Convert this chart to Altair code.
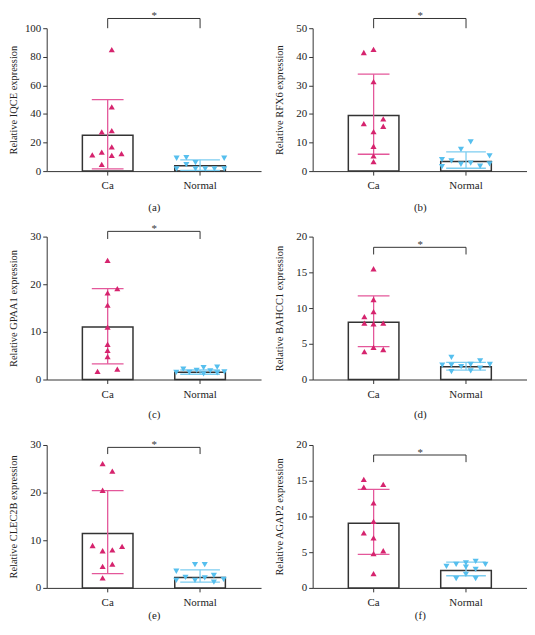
import altair as alt
import pandas as pd

groups = ["Ca", "Normal"]

# ---- panel (a) IQCE ----
a_title = "Relative IQCE expression"
a_ymax, a_step = 100, 20
a_ca = [85, 45, 28.3, 27.5, 17, 13.3, 12.2, 11.3, 11, 4.7]
a_ca_jit = [0.43, 0.43, 0.43, -0.6, 0.43, -0.6, 1.43, -1.57, 0.43, -0.6]
a_nm = [9, 1.5, 9.5, 4.5, 6, 1.5, 1.5, 1.5, 9, 1.5]
a_nm_jit = [-2.4, -2.4, -1.4, -1.4, -0.46, -0.46, 0.54, 1.49, 2.49, 2.49]
a_mean = [25.1, 3.8]
a_lo = [1.6, 0.5]
a_hi = [50, 7.9]
a_bracket = [106.8, 100]

# ---- panel (b) RFX6 ----
b_title = "Relative RFX6 expression"
b_ymax, b_step = 50, 10
b_ca = [42.6, 41.5, 31.3, 18.3, 16.6, 15.7, 13.8, 8.7, 5.3, 3.3]
b_ca_jit = [0, -1, 0, 1, -1, 1, 0, 0, 0, 0]
b_nm = [4.0, 1.6, 3.6, 7.6, 2.4, 10.2, 2.8, 1.7, 5.3, 2.5]
b_nm_jit = [-2.46, -2.46, -1.49, -0.51, -0.51, 0.49, 0.49, 1.46, 2.43, 2.43]
b_mean = [19.5, 3.4]
b_lo = [5.9, 1.0]
b_hi = [33.9, 6.7]
b_bracket = [53.4, 50]

# ---- panel (c) GPAA1 ----
c_title = "Relative GPAA1 expression"
c_ymax, c_step = 30, 10
c_ca = [25, 19.1, 18.2, 15.6, 11, 7.4, 6.1, 4.8, 1.7, 2.2]
c_ca_jit = [0, 1, 0, 0, 0, 0, 0, 0, -1.03, 1]
c_nm = [1.5, 2.2, 1.5, 1.9, 2.5, 1.2, 1.8, 2.6, 1.4, 1.6]
c_nm_jit = [-2.43, -1.71, -1.09, -0.34, 0.37, 0.37, 1.06, 1.77, 1.77, 2.51]
c_mean = [11, 1.5]
c_lo = [3.3, 1.1]
c_hi = [19.1, 2.0]
c_bracket = [31.1, 29.5]

# ---- panel (d) BAHCC1 ----
d_title = "Relative BAHCC1 expression"
d_ymax, d_step = 20, 5
d_ca = [15.5, 11.2, 9.5, 8.8, 7.9, 7.8, 7.9, 3.9, 4.5, 4.2]
d_ca_jit = [0, 0, 0, -0.94, -0.94, 0, 1, -0.94, 0, 1]
d_nm = [2.0, 2.0, 3.1, 1.1, 1.8, 2.1, 1.2, 2.6, 1.6, 2.1]
d_nm_jit = [-2.43, -1.49, -1.49, -1.49, -0.49, 0.49, 0.49, 1.46, 1.46, 2.46]
d_mean = [8.0, 1.8]
d_lo = [4.6, 1.3]
d_hi = [11.7, 2.4]
d_bracket = [18.5, 17.5]

# ---- panel (e) CLEC2B ----
e_title = "Relative CLEC2B expression"
e_ymax, e_step = 30, 10
e_ca = [26.1, 24.5, 20.5, 8.9, 7.8, 8.0, 8.7, 4.5, 5.0, 2.1]
e_ca_jit = [-0.51, 0.49, -0.51, -1.54, -0.51, 0.49, 1.49, -0.51, 0.49, -0.51]
e_nm = [3.5, 1.6, 2.2, 4.9, 1.6, 4.9, 2.1, 2.6, 1.2, 1.8]
e_nm_jit = [-2.43, -2.43, -1.49, -0.51, -0.51, 0.49, 0.49, 1.43, 1.43, 2.43]
e_mean = [11.4, 2.2]
e_lo = [3.0, 1.2]
e_hi = [20.4, 3.8]
e_bracket = [29.5, 28.1]

# ---- panel (f) AGAP2 ----
f_title = "Relative AGAP2 expression"
f_ymax, f_step = 20, 5
f_ca = [15.2, 14.1, 14.5, 11.9, 9.3, 7.7, 7.0, 5.2, 4.8, 2.0]
f_ca_jit = [-1, -1, 1, 0, 0, -1, 0, 1, 0, 0]
f_nm = [3.0, 3.3, 3.5, 2.9, 3.7, 2.6, 3.3, 1.3, 1.9, 1.3]
f_nm_jit = [-2, -1, 0, 0, 1, 1, 2, -1, 0, 1]
f_mean = [9.05, 2.45]
f_lo = [4.7, 1.7]
f_hi = [13.8, 3.6]
f_bracket = [18.6, 17.6]

captions = ["(a)", "(b)", "(c)", "(d)", "(e)", "(f)"]

W, H = 216, 144
BAR_W = 51
PINK, PINK_ERR = "#d6246e", "#e4579a"
BLUE, BLUE_ERR = "#56bfee", "#7ccdf0"
INK = "#333333"
FONT = "Liberation Serif"


def panel(title, ymax, ystep, ca, ca_j, nm, nm_j, mean, lo, hi, bracket, caption, cap_pad):
    pts = pd.DataFrame({
        "group": ["Ca"] * len(ca) + ["Normal"] * len(nm),
        "value": ca + nm,
        "jit": ca_j + nm_j,
    })
    summ = pd.DataFrame({"group": groups, "mean": mean, "lo": lo, "hi": hi})
    br = pd.DataFrame({
        "group": ["Ca", "Ca", "Normal", "Normal"],
        "y": [bracket[1], bracket[0], bracket[0], bracket[1]],
        "o": [0, 1, 2, 3],
    })
    star = pd.DataFrame({"group": ["Ca"], "y": [bracket[0]]})

    xscale = alt.Scale(domain=groups, paddingInner=0.45, paddingOuter=0.385)
    yscale = alt.Scale(domain=[0, ymax], nice=False, zero=True)
    xaxis = alt.Axis(title=caption, labelAngle=0, labelPadding=5,
                     titlePadding=cap_pad, titleFontSize=11, labelFontSize=11)
    yaxis = alt.Axis(values=list(range(0, ymax + 1, ystep)), title=title,
                     titleX=-28, titleFontSize=10.5, labelFontSize=11, labelPadding=2,
                     labelOverlap=False, labelFlush=False)

    def X():
        return alt.X("group:N", scale=xscale, axis=xaxis)

    def Y(field):
        return alt.Y(field, scale=yscale, axis=yaxis)

    col_pts = alt.Color("group:N", scale=alt.Scale(domain=groups, range=[PINK, BLUE]), legend=None)
    col_err = alt.Color("group:N", scale=alt.Scale(domain=groups, range=[PINK_ERR, BLUE_ERR]), legend=None)
    cap_size = alt.Size("group:N", scale=alt.Scale(domain=groups, range=[32, 40]), legend=None)

    bars = alt.Chart(summ).mark_bar(fill="white", stroke=INK, strokeWidth=1.5, width=BAR_W).encode(
        x=X(), y=Y("mean:Q"))
    err = alt.Chart(summ).mark_rule(strokeWidth=1.3).encode(
        x=X(), y=Y("lo:Q"), y2="hi:Q", color=col_err)
    cap_hi = alt.Chart(summ).mark_tick(thickness=1.3, opacity=1).encode(
        x=X(), y=Y("hi:Q"), color=col_err, size=cap_size)
    cap_lo = alt.Chart(summ).mark_tick(thickness=1.3, opacity=1).encode(
        x=X(), y=Y("lo:Q"), color=col_err, size=cap_size)
    points = alt.Chart(pts).mark_point(filled=True, opacity=1, size=38).encode(
        x=X(),
        xOffset=alt.XOffset("jit:Q", scale=alt.Scale(domain=[-2.6, 2.6], range=[0, BAR_W])),
        y=Y("value:Q"),
        shape=alt.Shape("group:N", scale=alt.Scale(domain=groups, range=["triangle-up", "triangle-down"]), legend=None),
        color=col_pts)
    brk = alt.Chart(br).mark_line(color=INK, strokeWidth=1).encode(
        x=X(), y=Y("y:Q"), order="o:Q")
    st = alt.Chart(star).mark_text(text="*", dx=47, dy=3, baseline="bottom", font=FONT,
                                   fontSize=11, fill="#3a3a3a", color="#3a3a3a").encode(
        x=X(), y=Y("y:Q"))

    return alt.layer(bars, err, cap_hi, cap_lo, points, brk, st).resolve_scale(
        color="independent", size="independent").properties(width=W, height=H)


pa = panel(a_title, a_ymax, a_step, a_ca, a_ca_jit, a_nm, a_nm_jit, a_mean, a_lo, a_hi, a_bracket, captions[0], 11)
pb = panel(b_title, b_ymax, b_step, b_ca, b_ca_jit, b_nm, b_nm_jit, b_mean, b_lo, b_hi, b_bracket, captions[1], 11)
pc = panel(c_title, c_ymax, c_step, c_ca, c_ca_jit, c_nm, c_nm_jit, c_mean, c_lo, c_hi, c_bracket, captions[2], 9)
pd_ = panel(d_title, d_ymax, d_step, d_ca, d_ca_jit, d_nm, d_nm_jit, d_mean, d_lo, d_hi, d_bracket, captions[3], 9)
pe = panel(e_title, e_ymax, e_step, e_ca, e_ca_jit, e_nm, e_nm_jit, e_mean, e_lo, e_hi, e_bracket, captions[4], 2)
pf = panel(f_title, f_ymax, f_step, f_ca, f_ca_jit, f_nm, f_nm_jit, f_mean, f_lo, f_hi, f_bracket, captions[5], 2)

chart = alt.concat(pa, pb, pc, pd_, pe, pf, columns=2,
                   spacing={"row": 66, "column": 52}, bounds="flush", padding=0).configure(
    font=FONT
).configure_view(stroke=None).configure_axis(
    labelFont=FONT, titleFont=FONT, titleFontWeight="normal", domainColor=INK, tickColor=INK,
    labelColor="#222222", titleColor="#222222", grid=False, tickSize=4, domainWidth=1, tickWidth=1
)

chart.save("out.html", embed_options={"renderer": "svg", "actions": False})
